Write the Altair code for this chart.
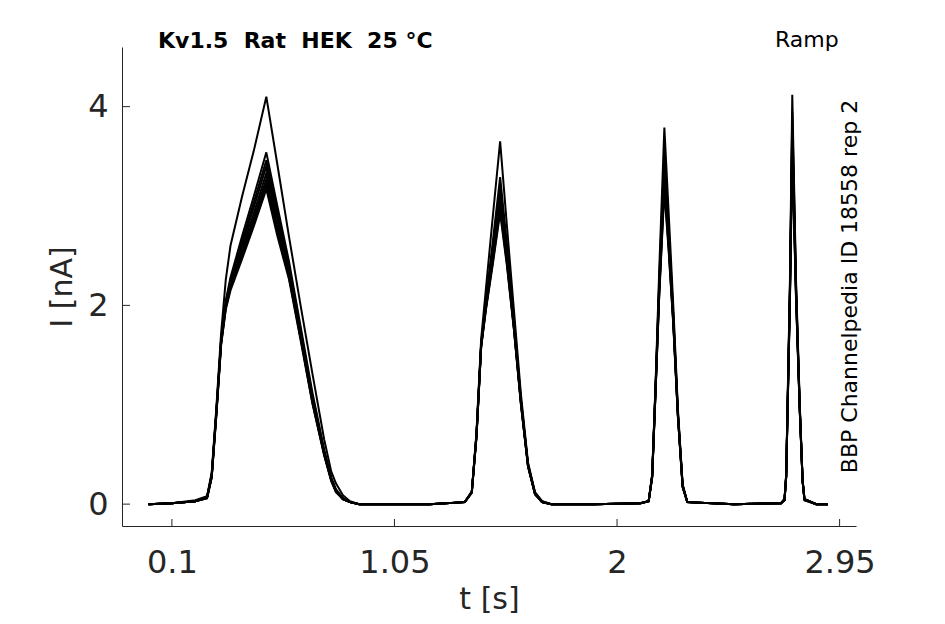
import altair as alt
import pandas as pd

# ---- time grids for the four ramp sweeps (s) ----
T_SWEEP1 = [0.00, 0.10, 0.20, 0.25, 0.27, 0.29, 0.31, 0.33, 0.35, 0.40, 0.45, 0.503,
            0.55, 0.60, 0.65, 0.70, 0.75, 0.78, 0.80, 0.83, 0.86, 0.90]
T_SWEEP2 = [1.00, 1.20, 1.35, 1.38, 1.40, 1.42, 1.44, 1.47, 1.501, 1.53, 1.56, 1.59,
            1.62, 1.65, 1.68, 1.72]
T_SWEEP3 = [1.90, 2.10, 2.135, 2.15, 2.165, 2.18, 2.202, 2.22, 2.24, 2.26, 2.28, 2.30]
T_SWEEP4 = [2.50, 2.70, 2.715, 2.722, 2.738, 2.748, 2.764, 2.78, 2.792, 2.80, 2.85, 2.90]

# ---- current (nA), one list per trace ----
I_SWEEP1 = [
    [0.00, 0.01, 0.04, 0.08, 0.32, 0.98, 1.72, 2.26, 2.60, 3.10, 3.56, 4.10, 3.42, 2.69, 1.99, 1.31, 0.65, 0.33, 0.21, 0.09, 0.03, 0.00],
    [0.00, 0.01, 0.03, 0.07, 0.30, 0.95, 1.66, 2.05, 2.28, 2.70, 3.10, 3.54, 3.00, 2.44, 1.78, 1.12, 0.55, 0.27, 0.15, 0.06, 0.02, 0.00],
    [0.00, 0.01, 0.03, 0.07, 0.29, 0.94, 1.65, 2.03, 2.25, 2.65, 3.04, 3.46, 2.94, 2.40, 1.74, 1.09, 0.53, 0.26, 0.14, 0.06, 0.02, 0.00],
    [0.00, 0.01, 0.03, 0.07, 0.29, 0.93, 1.64, 2.01, 2.23, 2.61, 2.99, 3.40, 2.88, 2.36, 1.71, 1.07, 0.52, 0.25, 0.14, 0.05, 0.02, 0.00],
    [0.00, 0.01, 0.03, 0.07, 0.28, 0.93, 1.63, 2.00, 2.21, 2.57, 2.93, 3.33, 2.83, 2.33, 1.69, 1.05, 0.51, 0.25, 0.13, 0.05, 0.02, 0.00],
    [0.00, 0.01, 0.03, 0.06, 0.28, 0.92, 1.62, 1.99, 2.19, 2.53, 2.88, 3.27, 2.78, 2.30, 1.67, 1.03, 0.50, 0.24, 0.13, 0.05, 0.02, 0.00],
    [0.00, 0.01, 0.03, 0.06, 0.27, 0.91, 1.61, 1.97, 2.17, 2.50, 2.84, 3.22, 2.74, 2.28, 1.66, 1.02, 0.50, 0.24, 0.13, 0.05, 0.02, 0.00],
    [0.00, 0.01, 0.03, 0.06, 0.27, 0.90, 1.60, 1.96, 2.15, 2.47, 2.80, 3.17, 2.70, 2.26, 1.64, 1.01, 0.49, 0.23, 0.12, 0.05, 0.02, 0.00],
]
I_SWEEP2 = [
    [0.00, 0.00, 0.02, 0.13, 0.72, 1.66, 2.16, 2.90, 3.65, 2.80, 1.95, 1.10, 0.42, 0.12, 0.03, 0.00],
    [0.00, 0.00, 0.02, 0.12, 0.70, 1.62, 2.05, 2.65, 3.29, 2.62, 1.86, 1.05, 0.40, 0.11, 0.03, 0.00],
    [0.00, 0.00, 0.02, 0.12, 0.70, 1.61, 2.02, 2.58, 3.20, 2.56, 1.83, 1.04, 0.40, 0.11, 0.02, 0.00],
    [0.00, 0.00, 0.02, 0.12, 0.69, 1.60, 2.00, 2.54, 3.13, 2.51, 1.80, 1.03, 0.39, 0.11, 0.02, 0.00],
    [0.00, 0.00, 0.02, 0.12, 0.69, 1.60, 1.99, 2.50, 3.07, 2.48, 1.78, 1.02, 0.39, 0.10, 0.02, 0.00],
    [0.00, 0.00, 0.02, 0.12, 0.68, 1.59, 1.97, 2.47, 3.02, 2.45, 1.77, 1.01, 0.38, 0.10, 0.02, 0.00],
    [0.00, 0.00, 0.02, 0.12, 0.68, 1.58, 1.96, 2.44, 2.97, 2.42, 1.76, 1.00, 0.38, 0.10, 0.02, 0.00],
    [0.00, 0.00, 0.02, 0.11, 0.67, 1.58, 1.95, 2.42, 2.93, 2.40, 1.75, 1.00, 0.38, 0.10, 0.02, 0.00],
]
I_SWEEP3 = [
    [0.00, 0.01, 0.03, 0.30, 1.25, 2.35, 3.79, 2.95, 2.00, 0.95, 0.20, 0.02],
    [0.00, 0.01, 0.03, 0.29, 1.22, 2.25, 3.55, 2.80, 1.92, 0.92, 0.19, 0.02],
    [0.00, 0.01, 0.03, 0.29, 1.21, 2.21, 3.45, 2.74, 1.89, 0.91, 0.19, 0.02],
    [0.00, 0.01, 0.03, 0.28, 1.20, 2.18, 3.38, 2.70, 1.87, 0.90, 0.18, 0.02],
    [0.00, 0.01, 0.03, 0.28, 1.19, 2.15, 3.30, 2.65, 1.85, 0.89, 0.18, 0.02],
    [0.00, 0.01, 0.03, 0.28, 1.18, 2.13, 3.25, 2.62, 1.84, 0.88, 0.18, 0.02],
    [0.00, 0.01, 0.03, 0.27, 1.17, 2.11, 3.20, 2.59, 1.82, 0.88, 0.17, 0.02],
    [0.00, 0.01, 0.03, 0.27, 1.16, 2.09, 3.15, 2.56, 1.81, 0.87, 0.17, 0.02],
]
I_SWEEP4 = [
    [0.00, 0.01, 0.05, 0.30, 2.25, 4.12, 2.25, 1.00, 0.25, 0.05, 0.00, 0.00],
    [0.00, 0.01, 0.05, 0.29, 2.18, 3.95, 2.20, 0.98, 0.24, 0.05, 0.00, 0.00],
    [0.00, 0.01, 0.05, 0.29, 2.15, 3.85, 2.17, 0.97, 0.24, 0.05, 0.00, 0.00],
    [0.00, 0.01, 0.05, 0.28, 2.13, 3.78, 2.15, 0.96, 0.24, 0.05, 0.00, 0.00],
    [0.00, 0.01, 0.05, 0.28, 2.11, 3.70, 2.13, 0.95, 0.23, 0.05, 0.00, 0.00],
    [0.00, 0.01, 0.04, 0.28, 2.09, 3.64, 2.11, 0.95, 0.23, 0.05, 0.00, 0.00],
    [0.00, 0.01, 0.04, 0.27, 2.07, 3.58, 2.09, 0.94, 0.23, 0.04, 0.00, 0.00],
    [0.00, 0.01, 0.04, 0.27, 2.05, 3.52, 2.07, 0.93, 0.23, 0.04, 0.00, 0.00],
]

X_TICKS = [0.1, 1.05, 2, 2.95]
X_TICK_LABELS = ["0.1", "1.05", "2", "2.95"]
Y_TICKS = [0, 2, 4]
Y_TICK_LABELS = ["0", "2", "4"]
# non-breaking spaces keep the wide gaps of the original heading
TITLE_LEFT = ["Kv1.5\u00a0\u00a0Rat\u00a0\u00a0HEK\u00a0\u00a025\u00a0°C"]
TITLE_RIGHT = ["Ramp"]
SIDE_NOTE = ["BBP Channelpedia ID 18558 rep 2"]

times = T_SWEEP1 + T_SWEEP2 + T_SWEEP3 + T_SWEEP4
rows = []
for k in range(len(I_SWEEP1)):
    vals = I_SWEEP1[k] + I_SWEEP2[k] + I_SWEEP3[k] + I_SWEEP4[k]
    for t, v in zip(times, vals):
        rows.append({"trace": k, "t": t, "i": v})
df = pd.DataFrame(rows)


def label_expr(values, labels):
    parts = [f"datum.value == {v} ? '{s}'" for v, s in zip(values, labels)]
    return " : ".join(parts) + " : ''"


W, H = 734, 479
FONT = "DejaVu Sans"
INK = "#262626"

xscale = alt.Scale(domain=[-0.113, 3.02], nice=False, zero=False)
yscale = alt.Scale(domain=[-0.22, 4.6], nice=False, zero=False)

xaxis = alt.Axis(
    values=X_TICKS, labelExpr=label_expr(X_TICKS, X_TICK_LABELS), title="t [s]",
    grid=False, ticks=False, tickSize=0,
    labelFont=FONT, labelFontSize=32, labelColor=INK, labelBaseline="alphabetic",
    labelPadding=46, labelFlush=False, labelOverlap=False,
    domainColor=INK, domainWidth=1,
    titleFont=FONT, titleFontSize=30, titleFontWeight="normal", titleColor=INK,
    titleX=W / 2, titleY=82, titleBaseline="alphabetic", titleAlign="center",
)
yaxis = alt.Axis(
    values=Y_TICKS, labelExpr=label_expr(Y_TICKS, Y_TICK_LABELS), title="I [nA]",
    grid=False, ticks=False, tickSize=0,
    labelFont=FONT, labelFontSize=32, labelColor=INK, labelBaseline="middle",
    labelPadding=14, labelFlush=False, labelOverlap=False,
    domainColor=INK, domainWidth=1,
    titleFont=FONT, titleFontSize=30, titleFontWeight="normal", titleColor=INK,
    titleX=-51, titleY=H / 2, titleAngle=270, titleBaseline="alphabetic", titleAlign="center",
)

lines = alt.Chart(df).mark_line(color="black", strokeWidth=2).encode(
    x=alt.X("t:Q", scale=xscale, axis=xaxis),
    y=alt.Y("i:Q", scale=yscale, axis=yaxis),
    detail="trace:N",
)

xticks = alt.Chart(pd.DataFrame({"t": X_TICKS})).mark_rule(color=INK, strokeWidth=1).encode(
    x=alt.X("t:Q", scale=xscale),
    y=alt.value(H),
    y2=alt.value(H - 7),
)
yticks = alt.Chart(pd.DataFrame({"i": Y_TICKS})).mark_rule(color=INK, strokeWidth=1).encode(
    y=alt.Y("i:Q", scale=yscale),
    x=alt.value(0),
    x2=alt.value(8),
)

t_left = alt.Chart(pd.DataFrame({"label": TITLE_LEFT})).mark_text(
    font=FONT, fontSize=22, fontWeight="bold", color="black", align="left", baseline="alphabetic"
).encode(x=alt.value(36), y=alt.value(1.3), text="label:N")

t_right = alt.Chart(pd.DataFrame({"label": TITLE_RIGHT})).mark_text(
    font=FONT, fontSize=22, color="black", align="left", baseline="alphabetic"
).encode(x=alt.value(653), y=alt.value(0.3), text="label:N")

side = alt.Chart(pd.DataFrame({"label": SIDE_NOTE})).mark_text(
    font=FONT, fontSize=22, color="black", align="center", baseline="alphabetic", angle=270
).encode(x=alt.value(735), y=alt.value(H / 2), text="label:N")

chart = alt.layer(lines, xticks, yticks, t_left, t_right, side).properties(
    width=W, height=H,
    autosize=alt.AutoSizeParams(type="none"),
    padding={"left": 114, "top": 39, "right": 75, "bottom": 90},
    background="white",
).configure_view(stroke=None)

chart.save("out.html", embed_options={"renderer": "svg", "actions": False})
